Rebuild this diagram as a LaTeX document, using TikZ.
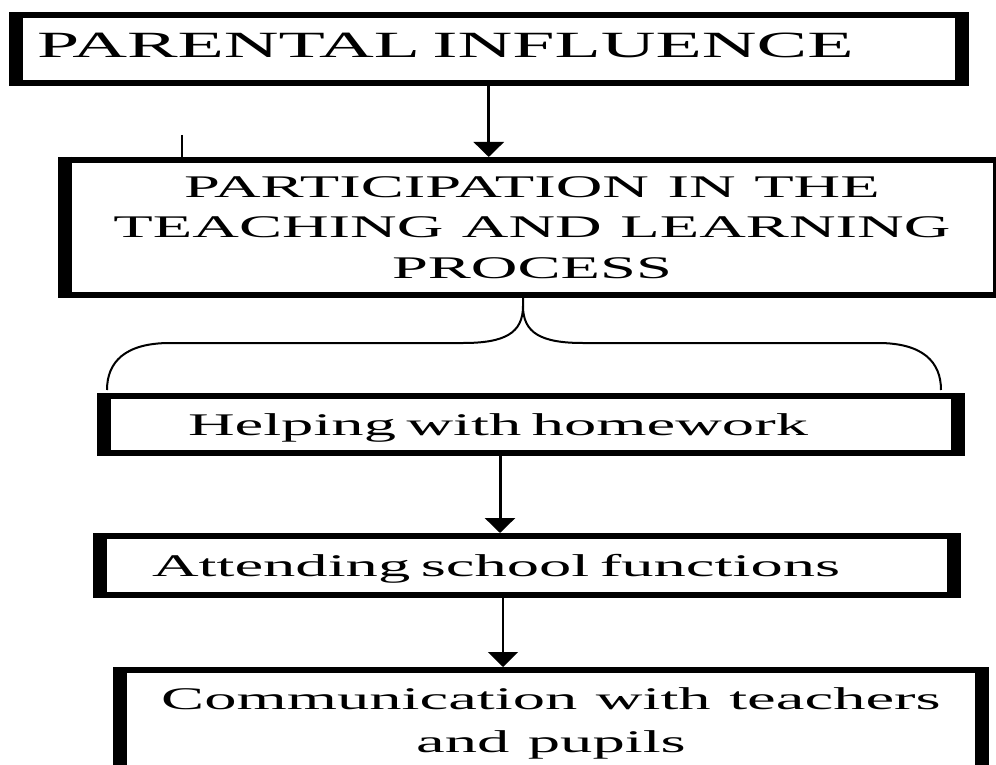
\documentclass[tikz,border=0pt]{standalone}
\usepackage{fontspec}
\setmainfont{Liberation Serif}[FakeStretch=2.05, WordSpace=1.15]
\usetikzlibrary{arrows.meta, positioning}

\tikzset{
  flowbox/.style={draw, line width=6pt, inner ysep=0pt, outer sep=0pt, font=\fontsize{31.5}{40.5}\selectfont},
  sideline/.style={line width=14pt, shorten <=-3pt, shorten >=-3pt},
  flowarrow/.style={-{Triangle[width=30pt, length=15pt]}, line width=3pt, shorten <=3pt, shorten >=3pt},
  braceline/.style={line width=2pt}
}

\begin{document}
\begin{tikzpicture}[x=1pt, y=1pt]
    \useasboundingbox (0,0) rectangle (996,-765);
    % boxes
    \node[flowbox, minimum width=945.5pt, minimum height=68pt, text width=903.5pt, inner xsep=21pt,
      align=left, text depth=8pt, font=\fontsize{37}{44}\selectfont] (infl) at (488.75,-49.5) {PARENTAL INFLUENCE};
    \node[flowbox, minimum width=935pt, minimum height=135pt, align=center] (part) at (532,-227.5)
      {PARTICIPATION IN THE\\TEACHING AND LEARNING\\PROCESS};
    \node[flowbox, minimum width=854pt, minimum height=57pt, text width=686pt, inner xsep=84pt,
      align=left, text depth=0pt] (help) at (531,-424.5) {Helping with homework};
    \node[flowbox, minimum width=854pt, minimum height=59pt, text width=750pt, inner xsep=52pt,
      align=left, text depth=0pt] (attend) at (527,-565.5) {Attending school functions};
    \node[flowbox, minimum width=862pt, minimum height=107pt, align=center,
      font=\fontsize{31.5}{43}\selectfont] (comm) at (551,-723.5) {Communication with teachers\\and pupils};
    % heavier left and right sides
    \foreach \n in {infl, part, help, attend, comm} {
      \draw[sideline] (\n.north west) -- (\n.south west);
      \draw[sideline] (\n.north east) -- (\n.south east);
    }
    % arrows
    \draw[flowarrow] (infl.south) -- (infl.south |- part.north);
    \draw[flowarrow] ([xshift=-31pt]help.south) -- ([xshift=-31pt]help.south |- attend.north);
    \draw[flowarrow, line width=2pt] ([xshift=-24pt]attend.south) -- ([xshift=-24pt]attend.south |- comm.north);
    % brace under the participation box
    \draw[braceline] (523,-298) -- (523,-306) .. controls (523,-333) and (505,-343) .. (463,-343)
      -- (170,-343) .. controls (125,-343) and (107,-362) .. (107,-390);
    \draw[braceline] (523,-306) .. controls (523,-333) and (541,-343) .. (583,-343)
      -- (878,-343) .. controls (923,-343) and (941,-362) .. (941,-390);
    \draw[line width=1.5pt] (182,-135) -- (182,-163);
\end{tikzpicture}
\end{document}
